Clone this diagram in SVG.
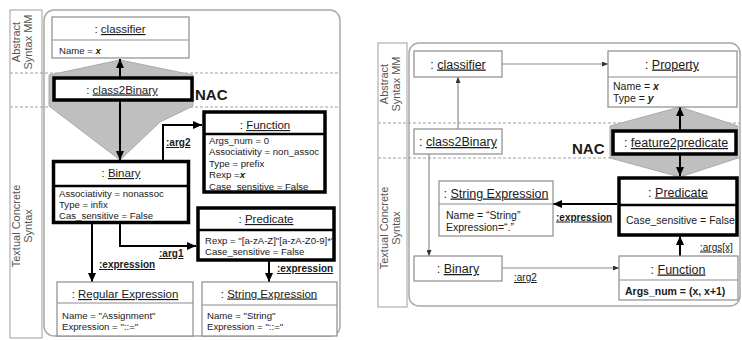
<svg xmlns="http://www.w3.org/2000/svg" width="742" height="340" viewBox="0 0 742 340">
  <defs>
    <style>
      text { font-family: "Liberation Sans", Arial, sans-serif; fill: #1a1a1a; }
      .panel { fill: none; stroke: #a8a8a8; stroke-width: 1.5; }
      .side { fill: none; stroke: #b0b0b0; stroke-width: 1.2; }
      .sep { stroke: #a0a0a0; stroke-width: 1; stroke-dasharray: 3 2; }
      .nac { fill: #bfbfbf; stroke: #aaaaaa; stroke-width: 1; }
      .thin { fill: #fff; stroke: #8c8c8c; stroke-width: 1.2; }
      .thick { fill: #fff; stroke: #000; stroke-width: 3.5; }
      .div-thin { stroke: #8c8c8c; stroke-width: 1.2; }
      .div-thick { stroke: #000; stroke-width: 2.5; }
      .t { font-size: 11.5px; text-anchor: middle; }
      .tr { font-size: 12.5px; text-anchor: middle; }
      .a { font-size: 9.6px; }
      .ar { font-size: 10.5px; }
      .sl { font-size: 11px; text-anchor: middle; fill: #555; }
      .nacl { font-size: 15px; font-weight: bold; }
      .cl { font-size: 10px; font-weight: bold; }
      .clr { font-size: 10px; }
      .c-thick { fill: none; stroke: #000; stroke-width: 2; }
      .c-thin { fill: none; stroke: #8c8c8c; stroke-width: 1.2; }
    </style>
    <marker id="ah" markerUnits="userSpaceOnUse" markerWidth="9" markerHeight="8" refX="9" refY="4" orient="auto">
      <path d="M0,0 L9,4 L0,8 z" fill="#000"/>
    </marker>
    <marker id="ahs" markerUnits="userSpaceOnUse" markerWidth="6" markerHeight="5" refX="6" refY="2.5" orient="auto">
      <path d="M0,0 L6,2.5 L0,5 z" fill="#333"/>
    </marker>
  </defs>

  <!-- ===== Left rule: class2Binary ===== -->
  <rect class="side" x="10" y="10" width="32" height="328"/>
  <rect class="panel" x="44" y="10" width="296" height="326" rx="10"/>
  <line class="sep" x1="10" y1="73" x2="340" y2="73"/>
  <line class="sep" x1="10" y1="107" x2="340" y2="107"/>
  <text class="sl" transform="translate(20,42) rotate(-90)">Abstract<tspan x="0" dy="12">Syntax MM</tspan></text>
  <text class="sl" transform="translate(20,226) rotate(-90)">Textual Concrete<tspan x="0" dy="12">Syntax</tspan></text>

  <polygon class="nac" points="120,60 193,75 193,106 160,122 120,160 49,106 49,75"/>

  <g id="l-connectors">
    <line class="c-thick" x1="120" y1="77" x2="120" y2="59" marker-end="url(#ah)"/>
    <line class="c-thick" x1="120" y1="101" x2="120" y2="160" marker-end="url(#ah)"/>
    <polyline class="c-thick" points="163,160 163,125 202,125" marker-end="url(#ah)"/>
    <polyline class="c-thick" points="120,223 120,246 196,246" marker-end="url(#ah)"/>
    <line class="c-thick" x1="92" y1="223" x2="92" y2="282" marker-end="url(#ah)"/>
    <line class="c-thick" x1="269" y1="261" x2="269" y2="282" marker-end="url(#ah)"/>
    <text class="cl" x="166" y="146"><tspan text-decoration="underline">:arg2</tspan></text>
    <text class="cl" x="159" y="257"><tspan text-decoration="underline">:arg1</tspan></text>
    <text class="cl" x="99" y="268"><tspan text-decoration="underline">:expression</tspan></text>
    <text class="cl" x="277" y="272"><tspan text-decoration="underline">:expression</tspan></text>
  </g>

  <g id="l-classifier">
    <rect class="thin" x="52" y="17" width="137" height="41"/>
    <line class="div-thin" x1="52" y1="40" x2="189" y2="40"/>
    <text class="t" x="120" y="33">: <tspan text-decoration="underline">classifier</tspan></text>
    <text class="a" x="59" y="53.5">Name = <tspan font-weight="bold" font-style="italic">x</tspan></text>
  </g>

  <g id="l-class2Binary">
    <rect class="thick" x="54" y="78" width="138" height="22" stroke-width="4"/>
    <text class="t" x="122" y="93.5">: <tspan text-decoration="underline">class2Binary</tspan></text>
  </g>
  <text class="nacl" x="195" y="100">NAC</text>

  <g id="l-binary">
    <rect class="thick" x="53.5" y="161.5" width="135" height="61"/>
    <line class="div-thick" x1="53.5" y1="186" x2="188.5" y2="186"/>
    <text class="t" x="121" y="177">: <tspan text-decoration="underline">Binary</tspan></text>
    <text class="a" x="59" y="196.5">Associativity = nonassoc</text>
    <text class="a" x="59" y="207.5">Type = infix</text>
    <text class="a" x="59" y="218.5">Cas_sensitive = False</text>
  </g>

  <g id="l-function">
    <rect class="thick" x="204" y="112" width="121" height="80"/>
    <line class="div-thick" x1="204" y1="134" x2="325" y2="134"/>
    <text class="t" x="265" y="129">: <tspan text-decoration="underline">Function</tspan></text>
    <text class="a" x="209" y="143.5">Args_num = 0</text>
    <text class="a" x="209" y="155">Associativity = non_assoc</text>
    <text class="a" x="209" y="166.5">Type  = prefix</text>
    <text class="a" x="209" y="178">Rexp =<tspan font-weight="bold" font-style="italic">x</tspan></text>
    <text class="a" x="209" y="189.5">Case_sensitive  = False</text>
  </g>

  <g id="l-predicate">
    <rect class="thick" x="198" y="208" width="136" height="52"/>
    <line class="div-thick" x1="198" y1="230" x2="334" y2="230"/>
    <text class="t" x="266" y="223">: <tspan text-decoration="underline">Predicate</tspan></text>
    <text class="a" x="205" y="243.5">Rexp = "[a-zA-Z]"[a-zA-Z0-9]*"</text>
    <text class="a" x="205" y="254.5">Case_sensitive  = False</text>
  </g>

  <g id="l-regexp">
    <rect class="thin" x="57" y="282" width="136" height="54"/>
    <line class="div-thin" x1="57" y1="303" x2="193" y2="303"/>
    <text class="t" x="125" y="298">: <tspan text-decoration="underline">Regular Expression</tspan></text>
    <text class="a" x="62" y="318.5">Name = "Assignment"</text>
    <text class="a" x="62" y="329.5">Expression = "::="</text>
  </g>

  <g id="l-strexp">
    <rect class="thin" x="202" y="282" width="135" height="54"/>
    <line class="div-thin" x1="202" y1="305" x2="337" y2="305"/>
    <text class="t" x="269" y="297.5">: <tspan text-decoration="underline">String Expression</tspan></text>
    <text class="a" x="207" y="318.5">Name = "String"</text>
    <text class="a" x="207" y="329.5">Expression = "::="</text>
  </g>

  <!-- ===== Right rule: feature2predicate ===== -->
  <rect class="side" x="378" y="43" width="29" height="264"/>
  <rect class="panel" x="409" y="43" width="331" height="263" rx="10"/>
  <line class="sep" x1="378" y1="123" x2="740" y2="123"/>
  <line class="sep" x1="378" y1="158" x2="740" y2="158"/>
  <text class="sl" transform="translate(388,84) rotate(-90)">Abstract<tspan x="0" dy="12">Syntax MM</tspan></text>
  <text class="sl" transform="translate(388,228) rotate(-90)">Textual Concrete<tspan x="0" dy="12">Syntax</tspan></text>

  <polygon class="nac" points="680,107 738,126 738,158 680,177 610,158 610,126"/>

  <g id="r-connectors">
    <line class="c-thin" x1="502" y1="64" x2="608" y2="64" marker-end="url(#ahs)"/>
    <line class="c-thin" x1="458" y1="129" x2="458" y2="77" marker-end="url(#ahs)"/>
    <line class="c-thin" x1="429" y1="154" x2="429" y2="256" marker-end="url(#ahs)"/>
    <line class="c-thin" x1="502" y1="268" x2="619" y2="268" marker-end="url(#ahs)"/>
    <line class="c-thick" x1="680" y1="130" x2="680" y2="107" marker-end="url(#ah)"/>
    <line class="c-thick" x1="680" y1="155" x2="680" y2="176" marker-end="url(#ah)"/>
    <line class="c-thick" x1="680" y1="256" x2="680" y2="236" marker-end="url(#ah)"/>
    <line class="c-thick" x1="617" y1="204" x2="553" y2="204" marker-end="url(#ah)"/>
    <text class="cl" x="556" y="220.5"><tspan text-decoration="underline">:expression</tspan></text>
    <text class="clr" x="700" y="250.5"><tspan text-decoration="underline">:args[x]</tspan></text>
    <text class="clr" x="514" y="281"><tspan text-decoration="underline">:arg2</tspan></text>
  </g>

  <g id="r-classifier">
    <rect class="thin" x="414" y="51" width="88" height="26"/>
    <text class="tr" x="458" y="68.5">: <tspan text-decoration="underline">classifier</tspan></text>
  </g>

  <g id="r-property">
    <rect class="thin" x="608" y="51" width="129" height="56"/>
    <line class="div-thin" x1="608" y1="77" x2="737" y2="77"/>
    <text class="tr" x="672" y="68.5">: <tspan text-decoration="underline">Property</tspan></text>
    <text class="ar" x="613" y="89.5">Name = <tspan font-weight="bold" font-style="italic">x</tspan></text>
    <text class="ar" x="613" y="101.5">Type = <tspan font-weight="bold" font-style="italic">y</tspan></text>
  </g>

  <g id="r-class2Binary">
    <rect class="thin" x="414" y="129" width="88" height="25"/>
    <text class="tr" x="458" y="146">: <tspan text-decoration="underline">class2Binary</tspan></text>
  </g>

  <g id="r-feature2predicate">
    <rect class="thick" x="613" y="131" width="123" height="23"/>
    <text class="tr" x="676" y="147">: <tspan text-decoration="underline">feature2predicate</tspan></text>
  </g>
  <text class="nacl" x="572" y="153.5">NAC</text>

  <g id="r-predicate">
    <rect class="thick" x="619" y="178" width="118" height="57"/>
    <line class="div-thick" x1="619" y1="205" x2="737" y2="205"/>
    <text class="tr" x="678" y="196.5">: <tspan text-decoration="underline">Predicate</tspan></text>
    <text class="ar" x="626" y="224">Case_sensitive = False</text>
  </g>

  <g id="r-strexp">
    <rect class="thin" x="439" y="181" width="114" height="55"/>
    <line class="div-thin" x1="439" y1="204" x2="553" y2="204"/>
    <text class="tr" x="496" y="197.5">: <tspan text-decoration="underline">String Expression</tspan></text>
    <text class="ar" x="446" y="218.5">Name = “String”</text>
    <text class="ar" x="446" y="230.5">Expression=“.”</text>
  </g>

  <g id="r-binary">
    <rect class="thin" x="414" y="256" width="88" height="25"/>
    <text class="tr" x="458" y="273">: <tspan text-decoration="underline">Binary</tspan></text>
  </g>

  <g id="r-function">
    <rect class="thin" x="619" y="256" width="119" height="44"/>
    <line class="div-thin" x1="619" y1="280" x2="738" y2="280"/>
    <text class="tr" x="678" y="273.5">: <tspan text-decoration="underline">Function</tspan></text>
    <text class="ar" x="625" y="294.5" font-weight="bold">Args_num = (x, x+1)</text>
  </g>
</svg>
